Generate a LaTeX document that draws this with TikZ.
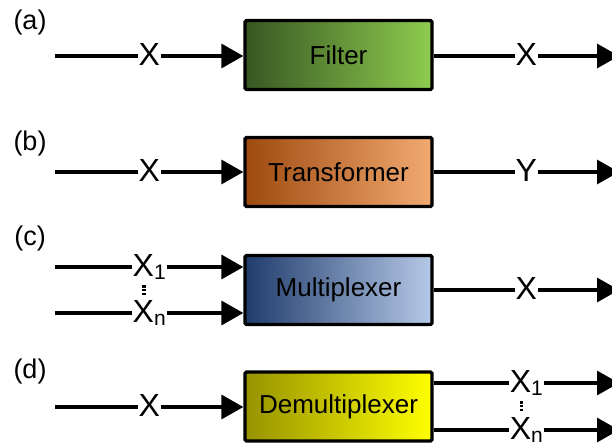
\documentclass[tikz,border=0pt]{standalone}
\usepackage{fontspec}
\setmainfont{Liberation Sans}
\usetikzlibrary{arrows.meta}

\definecolor{greenL}{RGB}{56,87,35}
\definecolor{greenR}{RGB}{142,204,78}
\definecolor{orangeL}{RGB}{158,74,16}
\definecolor{orangeR}{RGB}{242,170,112}
\definecolor{blueL}{RGB}{32,60,108}
\definecolor{blueR}{RGB}{182,201,232}
\definecolor{yellowL}{RGB}{150,146,0}
\definecolor{yellowR}{RGB}{255,255,0}

\newcommand{\sbs}[1]{\raisebox{-3pt}{\fontsize{21}{21}\selectfont #1}}

\begin{document}
\begin{tikzpicture}[x=1pt,y=-1pt,
  flow/.style={line width=3.3pt, -{Triangle[length=22pt,width=24pt]}},
  block/.style={draw, line width=3.3pt, rounded corners=1.5pt,
    minimum width=187pt, minimum height=69pt, inner sep=0pt,
    font=\fontsize{26}{30}\selectfont},
  sig/.style={fill=white, inner sep=1pt, text depth=4pt,
    font=\fontsize{32}{36}\selectfont},
  tag/.style={inner sep=0pt, font=\fontsize{27}{32}\selectfont},
  dots/.style={line width=3.5pt, dash pattern=on 2.4pt off 1.4pt,
    shorten <=2.5pt, shorten >=2.5pt},
]
\clip (0,0) rectangle (612,446);

% panel labels
\node[tag] (ta) at (30,23) {(a)};
\node[tag] (tb) at (30,144) {(b)};
\node[tag] (tc) at (30,239) {(c)};
\node[tag] (td) at (30,372) {(d)};

% processing blocks
\node[block, left color=greenL, right color=greenR] (fa) at (338.5,55) {Filter};
\node[block, left color=orangeL, right color=orangeR] (fb) at (338.5,172) {Transformer};
\node[block, left color=blueL, right color=blueR] (fc) at (338.5,290) {Multiplexer};
\node[block, left color=yellowL, right color=yellowR] (fd) at (338.5,406.5) {Demultiplexer};

% free line ends
\coordinate (ain) at (55,56);
\coordinate (aout) at (619,56);
\coordinate (bin) at (55,172);
\coordinate (bout) at (619,172);
\coordinate (cin1) at (55,267);
\coordinate (cin2) at (55,313);
\coordinate (cout) at (619,290);
\coordinate (din) at (55,407);
\coordinate (dout1) at (619,383);
\coordinate (dout2) at (619,430);

% (a) filter
\draw[flow] (ain) -- node[sig] {X} (fa.west |- ain);
\draw[flow] (fa.east |- aout) -- node[sig] {X} (aout);

% (b) transformer
\draw[flow] (bin) -- node[sig] {X} (fb.west |- bin);
\draw[flow] (fb.east |- bout) -- node[sig] {Y} (bout);

% (c) multiplexer
\draw[flow] (cin1) -- node[sig] (c1) {X\sbs{1}} (fc.west |- cin1);
\draw[flow] (cin2) -- node[sig] (cn) {X\sbs{n}} (fc.west |- cin2);
\draw[dots] ([xshift=-5pt]c1.south) -- ([xshift=-5pt]cn.north);
\draw[flow] (fc.east |- cout) -- node[sig] {X} (cout);

% (d) demultiplexer
\draw[flow] (din) -- node[sig] {X} (fd.west |- din);
\draw[flow] (fd.east |- dout1) -- node[sig] (d1) {X\sbs{1}} (dout1);
\draw[flow] (fd.east |- dout2) -- node[sig] (dn) {X\sbs{n}} (dout2);
\draw[dots] ([xshift=-5pt]d1.south) -- ([xshift=-5pt]dn.north);
\end{tikzpicture}
\end{document}
